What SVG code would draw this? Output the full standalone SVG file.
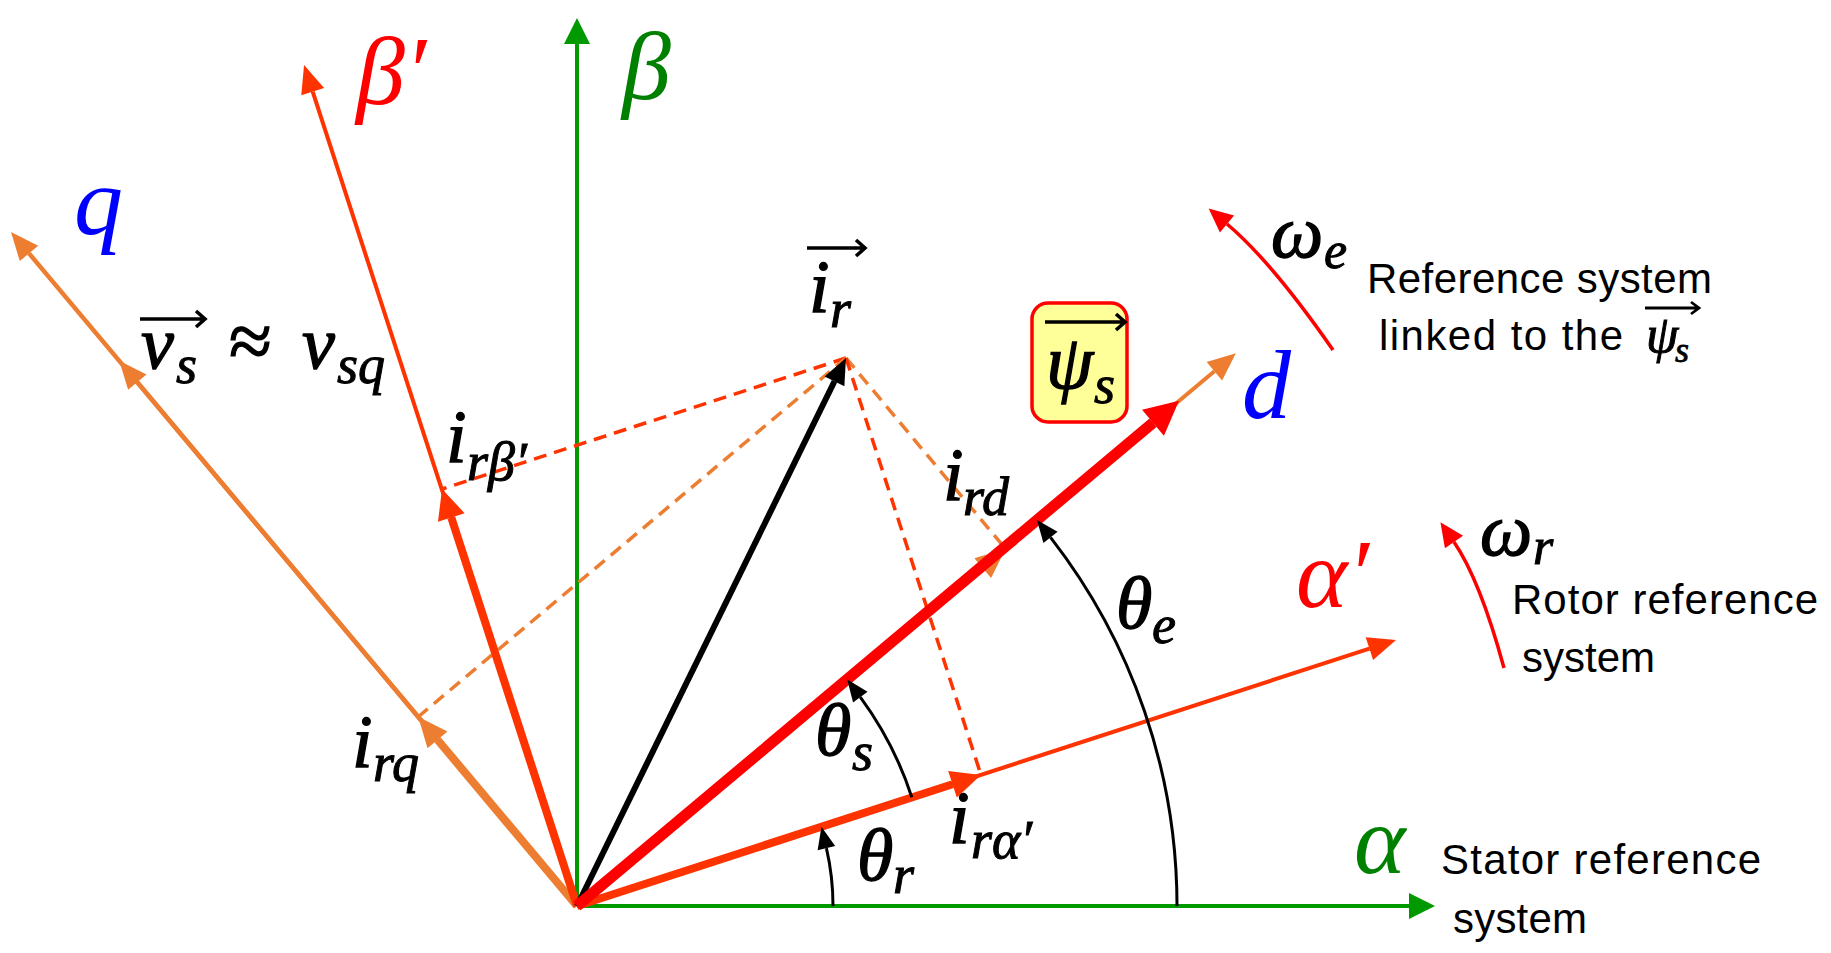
<svg xmlns="http://www.w3.org/2000/svg" width="1831" height="953" viewBox="0 0 1831 953">
<style>
.m{font-family:"Liberation Serif","DejaVu Serif",serif;font-style:italic;font-size:74px;fill:#000;stroke:#000;stroke-width:1.3}
.ms{font-family:"Liberation Serif","DejaVu Serif",serif;font-style:italic;font-size:54px;fill:#000;stroke:#000;stroke-width:1}
.ax{font-family:"Liberation Serif","DejaVu Serif",serif;font-style:italic;font-size:98px}
.t{font-family:"Liberation Sans",Arial,sans-serif;font-size:42px;fill:#000}
.ov{fill:none;stroke:#000;stroke-width:3.6;stroke-linecap:butt;stroke-linejoin:miter}
.dr{fill:none;stroke:#FF3300;stroke-width:3.5;stroke-dasharray:13 8}
.do{fill:none;stroke:#ED7D31;stroke-width:3.5;stroke-dasharray:13 8}
.arc{fill:none;stroke:#000;stroke-width:3}
</style>
<defs>
<marker id="mG" markerUnits="userSpaceOnUse" markerWidth="26" markerHeight="26" refX="0" refY="13" orient="auto" overflow="visible"><path d="M0,0 L26,13 L0,26 z" fill="#009900"/></marker>
<marker id="mRO" markerUnits="userSpaceOnUse" markerWidth="28" markerHeight="24" refX="0" refY="12" orient="auto" overflow="visible"><path d="M0,0 L28,12 L0,24 z" fill="#FF3300"/></marker>
<marker id="mROt" markerUnits="userSpaceOnUse" markerWidth="30" markerHeight="28" refX="0" refY="14" orient="auto" overflow="visible"><path d="M0,0 L30,14 L0,28 z" fill="#FF3300"/></marker>
<marker id="mO" markerUnits="userSpaceOnUse" markerWidth="28" markerHeight="24" refX="0" refY="12" orient="auto" overflow="visible"><path d="M0,0 L28,12 L0,24 z" fill="#ED7D31"/></marker>
<marker id="mOt" markerUnits="userSpaceOnUse" markerWidth="30" markerHeight="26" refX="0" refY="13" orient="auto" overflow="visible"><path d="M0,0 L30,13 L0,26 z" fill="#ED7D31"/></marker>
<marker id="mR" markerUnits="userSpaceOnUse" markerWidth="34" markerHeight="34" refX="0" refY="17" orient="auto" overflow="visible"><path d="M0,0 L34,17 L0,34 z" fill="#FF0000"/></marker>
<marker id="mRs" markerUnits="userSpaceOnUse" markerWidth="24" markerHeight="22" refX="0" refY="11" orient="auto" overflow="visible"><path d="M0,0 L24,11 L0,22 z" fill="#FF0000"/></marker>
<marker id="mK" markerUnits="userSpaceOnUse" markerWidth="26" markerHeight="22" refX="0" refY="11" orient="auto" overflow="visible"><path d="M0,0 L26,11 L0,22 z" fill="#000"/></marker>
<marker id="mA" markerUnits="userSpaceOnUse" markerWidth="22" markerHeight="18" refX="0" refY="9" orient="auto" overflow="visible"><path d="M0,0 L22,9 L0,18 z" fill="#000"/></marker>
</defs>
<rect width="1831" height="953" fill="#fff"/>

<g id="connectors">
  <path d="M577,906 L1409,906" stroke="#009900" stroke-width="4" marker-end="url(#mG)"/>
  <path d="M577,906 L577,44" stroke="#009900" stroke-width="4" marker-end="url(#mG)"/>
  <path d="M577,906 L1369.4,648.7" stroke="#FF3300" stroke-width="4" marker-end="url(#mRO)"/>
  <path d="M577,906 L312.7,91.6" stroke="#FF3300" stroke-width="4" marker-end="url(#mRO)"/>
  <path d="M577,906 L29,253.4" stroke="#ED7D31" stroke-width="4.5" marker-end="url(#mO)"/>
  <path d="M577,906 L137.3,382.1" stroke="#ED7D31" stroke-width="4.5" marker-end="url(#mO)"/>
  <path d="M577,906 L1214.4,371.2" stroke="#ED7D31" stroke-width="4" marker-end="url(#mO)"/>
  <path class="dr" d="M846,358 L442,489"/>
  <path class="do" d="M846,358 L418,717"/>
  <path class="do" d="M846,358 L1004,547"/>
  <path class="dr" d="M846,358 L981,775"/>
  <path d="M578.3,907.5 L982.7,568.1" stroke="#ED7D31" stroke-width="6" marker-end="url(#mOt)"/>
  <path d="M577,906 L437.5,739.8" stroke="#ED7D31" stroke-width="8" marker-end="url(#mOt)"/>
  <path d="M577,906 L451.3,517.5" stroke="#FF3300" stroke-width="8" marker-end="url(#mROt)"/>
  <path d="M577,906 L952.5,784.3" stroke="#FF3300" stroke-width="8" marker-end="url(#mROt)"/>
  <path d="M577,906 L834.5,381.3" stroke="#000" stroke-width="6" marker-end="url(#mK)"/>
  <path d="M577,906 L1153,422.7" stroke="#FF0000" stroke-width="11" marker-end="url(#mR)"/>
  <path class="arc" d="M833,906 A256,256 0 0 0 826.4,848.1" marker-end="url(#mA)"/>
  <path class="arc" d="M911.8,797.2 A352,352 0 0 0 860.3,697.1" marker-end="url(#mA)"/>
  <path class="arc" d="M1177,906 A600,600 0 0 0 1050.5,537.4" marker-end="url(#mA)"/>
  <path d="M1333,350 Q1272,262 1227,224" fill="none" stroke="#FF0000" stroke-width="3.5" marker-end="url(#mRs)"/>
  <path d="M1504,668 Q1480,580 1454,542" fill="none" stroke="#FF0000" stroke-width="3.5" marker-end="url(#mRs)"/>
</g>

<g id="axis-labels">
  <text class="ax" x="356" y="104" fill="#FF0000">β′</text>
  <text class="ax" x="622" y="99" fill="#008000">β</text>
  <text class="ax" x="74" y="234" fill="#0000FF">q</text>
  <text class="ax" x="1242" y="418" fill="#0000FF">d</text>
  <text class="ax" x="1296" y="607" fill="#FF0000">α′</text>
  <text class="ax" x="1354" y="873" fill="#008000">α</text>
</g>

<g id="vs-label">
  <path class="ov" d="M140,319 L205,319 M196,311 L205,319 L196,327"/>
  <text class="m" x="141" y="368">v</text>
  <text class="ms" x="176" y="383">s</text>
  <text x="229" y="367" style="font-family:'Liberation Serif',serif;font-size:78px;stroke:#000;stroke-width:1.3">≈</text>
  <text class="m" x="302" y="368">v</text>
  <text class="ms" x="337" y="383">sq</text>
</g>

<g id="ir-label">
  <path class="ov" d="M807,248 L865,248 M856,240 L865,248 L856,256"/>
  <text class="m" x="809" y="312">i</text>
  <text class="ms" x="830" y="327">r</text>
</g>

<g id="irbeta-label">
  <text class="m" x="446" y="462">i</text>
  <text class="ms" x="467" y="480">rβ′</text>
</g>

<g id="irq-label">
  <text class="m" x="352" y="767">i</text>
  <text class="ms" x="373" y="781">rq</text>
</g>

<g id="ird-label">
  <text class="m" x="943" y="500">i</text>
  <text class="ms" x="963" y="515">rd</text>
</g>

<g id="iralpha-label">
  <text class="m" x="949" y="843">i</text>
  <text class="ms" x="971" y="858">rα′</text>
</g>

<g id="theta-labels">
  <text class="m" x="815" y="755">θ</text>
  <text class="ms" x="852" y="770">s</text>
  <text class="m" x="857" y="880">θ</text>
  <text class="ms" x="893" y="893">r</text>
  <text class="m" x="1116" y="628">θ</text>
  <text class="ms" x="1152" y="643">e</text>
</g>

<g id="psi-box">
  <rect x="1032" y="303" width="95" height="119" rx="16" ry="16" fill="#FFFF99" stroke="#FF0000" stroke-width="3.5"/>
  <path class="ov" d="M1045,322 L1125,322 M1116,314 L1125,322 L1116,330"/>
  <text class="m" x="1046" y="388" style="font-size:76px">ψ</text>
  <text class="ms" x="1094" y="403">s</text>
</g>

<g id="we-label">
  <text class="m" x="1271" y="257">ω</text>
  <text class="ms" x="1324" y="268" style="font-size:52px">e</text>
  <text class="t" x="1367" y="293" textLength="345" lengthAdjust="spacing">Reference system</text>
  <text class="t" x="1379" y="350" textLength="244" lengthAdjust="spacing">linked to the</text>
  <path class="ov" d="M1645,308 L1699,308 M1691,302 L1699,308 L1691,314" style="stroke-width:2.8"/>
  <text class="m" x="1646" y="352" style="font-size:52px;stroke-width:1">ψ</text>
  <text class="ms" x="1675" y="362" style="font-size:36px;stroke-width:0.8">s</text>
</g>

<g id="wr-label">
  <text class="m" x="1480" y="555">ω</text>
  <text class="ms" x="1533" y="564" style="font-size:52px">r</text>
  <text class="t" x="1512" y="614" textLength="306" lengthAdjust="spacing">Rotor reference</text>
  <text class="t" x="1522" y="672" textLength="133" lengthAdjust="spacing">system</text>
</g>

<g id="stator-label">
  <text class="t" x="1441" y="874" textLength="320" lengthAdjust="spacing">Stator reference</text>
  <text class="t" x="1453" y="933" textLength="134" lengthAdjust="spacing">system</text>
</g>
</svg>
